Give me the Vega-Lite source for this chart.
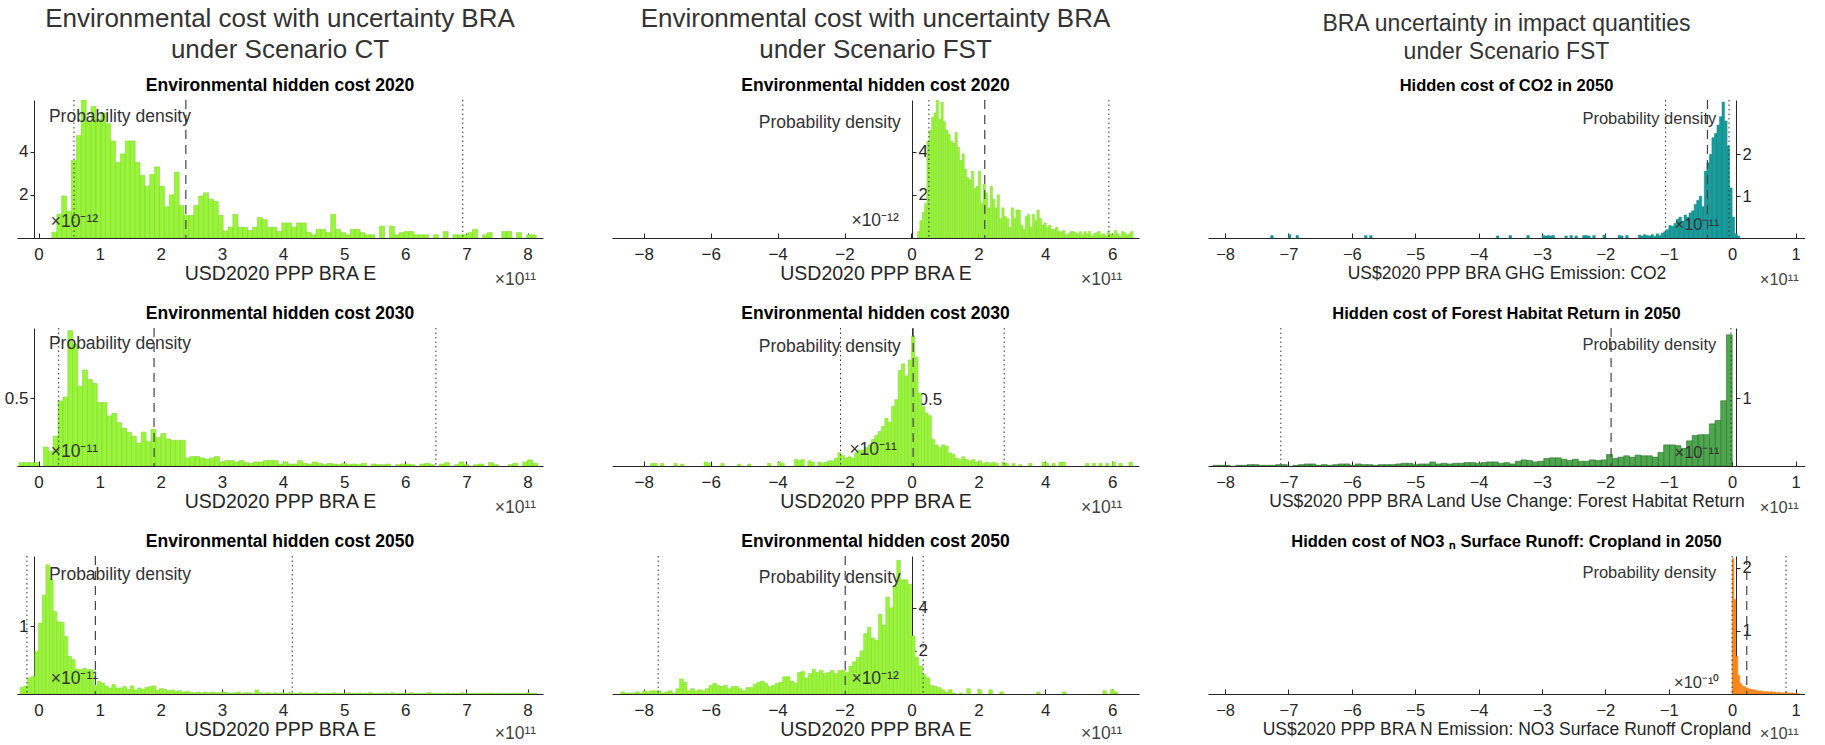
{
"$schema": "https://vega.github.io/schema/vega-lite/v6.json",
"background": "white",
"padding": {"left": 4, "top": 5, "right": 0, "bottom": 0},
"columns": 3,
"spacing": {"row": 90, "column": 69},
"bounds": "flush",
"config": {
 "view": {"stroke": null},
 "font": "Liberation Sans",
 "title": {"font": "Liberation Sans", "fontSize": 17.5, "fontWeight": "bold", "color": "#000000", "offset": 5, "anchor": "middle"},
 "axis": {"grid": false, "domainColor": "#262626", "tickColor": "#262626", "labelColor": "#262626", "titleColor": "#262626", "labelFont": "Liberation Sans", "titleFont": "Liberation Sans", "labelFontSize": 17, "titleFontSize": 19.5, "titleFontWeight": "normal", "labelFlush": false, "labelOverlap": false, "minExtent": 0},
 "axisX": {"tickSize": -5, "labelPadding": 13, "titlePadding": 2},
 "axisY": {"tickSize": 4, "labelPadding": 2}
},
"datasets": {
"A": [{"x":0.26,"y":0.27},{"x":0.34,"y":1.1},{"x":0.42,"y":1.95},{"x":0.5,"y":1.25},{"x":0.58,"y":3.6},{"x":0.66,"y":4.75},{"x":0.74,"y":6.4},{"x":0.82,"y":5.4},{"x":0.9,"y":6.1},{"x":0.98,"y":5.5},{"x":1.06,"y":5.8},{"x":1.14,"y":5.3},{"x":1.22,"y":4.5},{"x":1.3,"y":3.5},{"x":1.38,"y":3.9},{"x":1.46,"y":4.5},{"x":1.54,"y":4.5},{"x":1.62,"y":3.5},{"x":1.7,"y":2.9},{"x":1.78,"y":2.4},{"x":1.86,"y":2.95},{"x":1.94,"y":3.3},{"x":2.02,"y":2.4},{"x":2.1,"y":1.45},{"x":2.18,"y":2.0},{"x":2.26,"y":3.05},{"x":2.34,"y":1.5},{"x":2.42,"y":1.05},{"x":2.5,"y":1.05},{"x":2.58,"y":1.5},{"x":2.66,"y":1.95},{"x":2.74,"y":2.1},{"x":2.82,"y":1.8},{"x":2.9,"y":1.7},{"x":2.98,"y":1.05},{"x":3.06,"y":0.33},{"x":3.14,"y":0.5},{"x":3.22,"y":1.1},{"x":3.3,"y":0.5},{"x":3.38,"y":0.5},{"x":3.46,"y":0.35},{"x":3.54,"y":0.5},{"x":3.62,"y":0.95},{"x":3.7,"y":0.85},{"x":3.78,"y":0.5},{"x":3.86,"y":0.5},{"x":3.94,"y":0.3},{"x":4.02,"y":0.7},{"x":4.1,"y":0.7},{"x":4.18,"y":0.5},{"x":4.26,"y":0.7},{"x":4.34,"y":0.7},{"x":4.42,"y":0.27},{"x":4.5,"y":0.15},{"x":4.58,"y":0.4},{"x":4.66,"y":0.4},{"x":4.74,"y":0.25},{"x":4.82,"y":1.1},{"x":4.9,"y":0.4},{"x":4.98,"y":0.25},{"x":5.06,"y":0.15},{"x":5.14,"y":0.4},{"x":5.22,"y":0.4},{"x":5.3,"y":0.25},{"x":5.38,"y":0.15},{"x":5.46,"y":0.15},{"x":5.62,"y":0.55},{"x":5.78,"y":0.55},{"x":5.86,"y":0.15},{"x":5.94,"y":0.25},{"x":6.02,"y":0.3},{"x":6.1,"y":0.3},{"x":6.18,"y":0.15},{"x":6.26,"y":0.15},{"x":6.34,"y":0.15},{"x":6.5,"y":0.15},{"x":6.66,"y":0.3},{"x":6.82,"y":0.15},{"x":6.9,"y":0.15},{"x":6.98,"y":0.15},{"x":7.06,"y":0.25},{"x":7.14,"y":0.4},{"x":7.3,"y":0.15},{"x":7.38,"y":0.25},{"x":7.62,"y":0.3},{"x":7.7,"y":0.3},{"x":7.86,"y":0.25},{"x":8.02,"y":0.15},{"x":8.1,"y":0.15}],
"B": [{"x":-0.28,"y":0.025},{"x":-0.2,"y":0.025},{"x":-0.12,"y":0.025},{"x":-0.04,"y":0.025},{"x":0.12,"y":0.14},{"x":0.2,"y":0.11},{"x":0.28,"y":0.22},{"x":0.36,"y":0.48},{"x":0.44,"y":0.51},{"x":0.52,"y":1.0},{"x":0.6,"y":0.9},{"x":0.68,"y":0.59},{"x":0.76,"y":0.71},{"x":0.84,"y":0.64},{"x":0.92,"y":0.61},{"x":1.0,"y":0.47},{"x":1.08,"y":0.47},{"x":1.16,"y":0.37},{"x":1.24,"y":0.39},{"x":1.32,"y":0.32},{"x":1.4,"y":0.28},{"x":1.48,"y":0.25},{"x":1.56,"y":0.22},{"x":1.64,"y":0.17},{"x":1.72,"y":0.25},{"x":1.8,"y":0.18},{"x":1.88,"y":0.27},{"x":1.96,"y":0.21},{"x":2.04,"y":0.24},{"x":2.12,"y":0.2},{"x":2.2,"y":0.19},{"x":2.28,"y":0.19},{"x":2.36,"y":0.19},{"x":2.44,"y":0.06},{"x":2.52,"y":0.07},{"x":2.6,"y":0.07},{"x":2.68,"y":0.06},{"x":2.76,"y":0.05},{"x":2.84,"y":0.06},{"x":2.92,"y":0.07},{"x":3.0,"y":0.03},{"x":3.08,"y":0.04},{"x":3.16,"y":0.04},{"x":3.24,"y":0.03},{"x":3.32,"y":0.04},{"x":3.4,"y":0.025},{"x":3.48,"y":0.02},{"x":3.56,"y":0.03},{"x":3.64,"y":0.03},{"x":3.72,"y":0.04},{"x":3.8,"y":0.04},{"x":3.88,"y":0.04},{"x":3.96,"y":0.015},{"x":4.04,"y":0.03},{"x":4.12,"y":0.015},{"x":4.2,"y":0.015},{"x":4.28,"y":0.04},{"x":4.36,"y":0.02},{"x":4.44,"y":0.015},{"x":4.52,"y":0.03},{"x":4.6,"y":0.02},{"x":4.68,"y":0.01},{"x":4.76,"y":0.02},{"x":4.84,"y":0.015},{"x":4.92,"y":0.01},{"x":5.0,"y":0.02},{"x":5.08,"y":0.01},{"x":5.16,"y":0.015},{"x":5.24,"y":0.01},{"x":5.32,"y":0.02},{"x":5.48,"y":0.015},{"x":5.56,"y":0.01},{"x":5.64,"y":0.01},{"x":5.72,"y":0.015},{"x":5.88,"y":0.01},{"x":5.96,"y":0.015},{"x":6.04,"y":0.015},{"x":6.12,"y":0.01},{"x":6.28,"y":0.015},{"x":6.36,"y":0.02},{"x":6.44,"y":0.01},{"x":6.6,"y":0.015},{"x":6.68,"y":0.025},{"x":6.84,"y":0.01},{"x":6.92,"y":0.03},{"x":7.0,"y":0.01},{"x":7.16,"y":0.01},{"x":7.24,"y":0.015},{"x":7.4,"y":0.025},{"x":7.48,"y":0.01},{"x":7.72,"y":0.01},{"x":7.8,"y":0.02},{"x":7.96,"y":0.03},{"x":8.04,"y":0.045},{"x":8.12,"y":0.02}],
"C": [{"x":-0.27,"y":0.1},{"x":-0.21,"y":0.12},{"x":-0.15,"y":0.24},{"x":-0.09,"y":0.26},{"x":-0.03,"y":0.63},{"x":0.03,"y":1.05},{"x":0.09,"y":1.46},{"x":0.15,"y":1.91},{"x":0.21,"y":1.69},{"x":0.27,"y":1.22},{"x":0.33,"y":1.07},{"x":0.39,"y":1.06},{"x":0.45,"y":0.85},{"x":0.51,"y":0.56},{"x":0.57,"y":0.51},{"x":0.63,"y":0.37},{"x":0.69,"y":0.36},{"x":0.75,"y":0.38},{"x":0.81,"y":0.36},{"x":0.87,"y":0.36},{"x":0.93,"y":0.12},{"x":0.99,"y":0.19},{"x":1.05,"y":0.16},{"x":1.11,"y":0.12},{"x":1.17,"y":0.09},{"x":1.23,"y":0.14},{"x":1.29,"y":0.09},{"x":1.35,"y":0.09},{"x":1.41,"y":0.11},{"x":1.47,"y":0.07},{"x":1.53,"y":0.12},{"x":1.59,"y":0.06},{"x":1.65,"y":0.09},{"x":1.71,"y":0.07},{"x":1.77,"y":0.1},{"x":1.83,"y":0.11},{"x":1.89,"y":0.12},{"x":1.95,"y":0.06},{"x":2.01,"y":0.08},{"x":2.07,"y":0.07},{"x":2.13,"y":0.05},{"x":2.19,"y":0.06},{"x":2.25,"y":0.04},{"x":2.31,"y":0.05},{"x":2.37,"y":0.03},{"x":2.43,"y":0.04},{"x":2.49,"y":0.03},{"x":2.55,"y":0.02},{"x":2.61,"y":0.03},{"x":2.67,"y":0.02},{"x":2.73,"y":0.03},{"x":2.79,"y":0.02},{"x":2.85,"y":0.03},{"x":2.91,"y":0.02},{"x":2.97,"y":0.02},{"x":3.03,"y":0.03},{"x":3.09,"y":0.02},{"x":3.15,"y":0.01},{"x":3.21,"y":0.02},{"x":3.27,"y":0.03},{"x":3.33,"y":0.01},{"x":3.39,"y":0.02},{"x":3.45,"y":0.02},{"x":3.51,"y":0.01},{"x":3.57,"y":0.06},{"x":3.63,"y":0.02},{"x":3.69,"y":0.01},{"x":3.75,"y":0.02},{"x":3.81,"y":0.01},{"x":3.87,"y":0.02},{"x":3.93,"y":0.01},{"x":3.99,"y":0.02},{"x":4.05,"y":0.01},{"x":4.11,"y":0.02},{"x":4.17,"y":0.01},{"x":4.23,"y":0.01},{"x":4.29,"y":0.02},{"x":4.35,"y":0.01},{"x":4.41,"y":0.015},{"x":4.47,"y":0.01},{"x":4.53,"y":0.02},{"x":4.59,"y":0.01},{"x":4.65,"y":0.01},{"x":4.71,"y":0.015},{"x":4.77,"y":0.01},{"x":4.83,"y":0.02},{"x":4.89,"y":0.01},{"x":4.95,"y":0.01},{"x":5.01,"y":0.01},{"x":5.07,"y":0.02},{"x":5.13,"y":0.01},{"x":5.19,"y":0.01},{"x":5.25,"y":0.015},{"x":5.31,"y":0.01},{"x":5.37,"y":0.01},{"x":5.43,"y":0.02},{"x":5.49,"y":0.01},{"x":5.55,"y":0.01},{"x":5.61,"y":0.01},{"x":5.67,"y":0.015},{"x":5.73,"y":0.01},{"x":5.79,"y":0.02},{"x":5.85,"y":0.01},{"x":5.91,"y":0.01},{"x":5.97,"y":0.01},{"x":6.03,"y":0.01},{"x":6.09,"y":0.02},{"x":6.15,"y":0.01},{"x":6.21,"y":0.01},{"x":6.27,"y":0.01},{"x":6.33,"y":0.01},{"x":6.39,"y":0.025},{"x":6.45,"y":0.01},{"x":6.51,"y":0.01},{"x":6.57,"y":0.01},{"x":6.63,"y":0.01},{"x":6.69,"y":0.015},{"x":6.75,"y":0.01},{"x":6.81,"y":0.01},{"x":6.87,"y":0.01},{"x":6.93,"y":0.02},{"x":6.99,"y":0.01},{"x":7.05,"y":0.01},{"x":7.11,"y":0.01},{"x":7.17,"y":0.01},{"x":7.23,"y":0.01},{"x":7.29,"y":0.01},{"x":7.35,"y":0.01},{"x":7.41,"y":0.015},{"x":7.47,"y":0.01},{"x":7.53,"y":0.01},{"x":7.59,"y":0.01},{"x":7.65,"y":0.01},{"x":7.71,"y":0.01},{"x":7.77,"y":0.01},{"x":7.83,"y":0.01},{"x":7.89,"y":0.01},{"x":7.95,"y":0.01},{"x":8.01,"y":0.02},{"x":8.07,"y":0.01},{"x":8.13,"y":0.01}],
"D": [{"x":0.215,"y":0.3},{"x":0.285,"y":0.8},{"x":0.355,"y":1.2},{"x":0.425,"y":1.6},{"x":0.495,"y":4.5},{"x":0.565,"y":5.0},{"x":0.635,"y":5.6},{"x":0.705,"y":5.8},{"x":0.775,"y":6.4},{"x":0.845,"y":5.5},{"x":0.915,"y":6.3},{"x":0.985,"y":5.4},{"x":1.055,"y":5.0},{"x":1.125,"y":4.8},{"x":1.195,"y":4.5},{"x":1.265,"y":4.4},{"x":1.335,"y":4.9},{"x":1.405,"y":4.2},{"x":1.475,"y":3.6},{"x":1.545,"y":3.9},{"x":1.615,"y":3.2},{"x":1.685,"y":2.8},{"x":1.755,"y":2.7},{"x":1.825,"y":3.1},{"x":1.895,"y":2.3},{"x":1.965,"y":2.4},{"x":2.035,"y":3.1},{"x":2.105,"y":1.6},{"x":2.175,"y":2.5},{"x":2.245,"y":2.1},{"x":2.315,"y":1.4},{"x":2.385,"y":2.4},{"x":2.455,"y":1.8},{"x":2.525,"y":1.4},{"x":2.595,"y":2.0},{"x":2.665,"y":0.9},{"x":2.735,"y":1.4},{"x":2.805,"y":1.0},{"x":2.875,"y":0.9},{"x":2.945,"y":0.5},{"x":3.015,"y":1.4},{"x":3.085,"y":0.9},{"x":3.155,"y":1.3},{"x":3.225,"y":1.3},{"x":3.295,"y":0.6},{"x":3.365,"y":0.4},{"x":3.435,"y":1.0},{"x":3.505,"y":1.1},{"x":3.575,"y":0.5},{"x":3.645,"y":1.1},{"x":3.715,"y":0.8},{"x":3.785,"y":1.3},{"x":3.855,"y":0.9},{"x":3.925,"y":0.6},{"x":3.995,"y":0.7},{"x":4.065,"y":0.5},{"x":4.135,"y":0.6},{"x":4.205,"y":0.4},{"x":4.275,"y":0.4},{"x":4.345,"y":0.5},{"x":4.415,"y":0.3},{"x":4.485,"y":0.3},{"x":4.555,"y":0.35},{"x":4.625,"y":0.15},{"x":4.695,"y":0.2},{"x":4.765,"y":0.3},{"x":4.835,"y":0.3},{"x":4.905,"y":0.25},{"x":4.975,"y":0.2},{"x":5.045,"y":0.3},{"x":5.115,"y":0.15},{"x":5.185,"y":0.3},{"x":5.255,"y":0.2},{"x":5.325,"y":0.3},{"x":5.395,"y":0.1},{"x":5.465,"y":0.2},{"x":5.535,"y":0.25},{"x":5.605,"y":0.3},{"x":5.675,"y":0.15},{"x":5.745,"y":0.2},{"x":5.815,"y":0.1},{"x":5.885,"y":0.3},{"x":5.955,"y":0.2},{"x":6.025,"y":0.15},{"x":6.095,"y":0.35},{"x":6.165,"y":0.2},{"x":6.235,"y":0.1},{"x":6.305,"y":0.3},{"x":6.375,"y":0.25},{"x":6.445,"y":0.15},{"x":6.515,"y":0.2},{"x":6.585,"y":0.3}],
"E": [{"x":-7.75,"y":0.02},{"x":-7.65,"y":0.02},{"x":-7.45,"y":0.02},{"x":-7.05,"y":0.02},{"x":-6.85,"y":0.015},{"x":-6.15,"y":0.03},{"x":-6.05,"y":0.02},{"x":-5.65,"y":0.02},{"x":-5.15,"y":0.015},{"x":-4.85,"y":0.015},{"x":-4.25,"y":0.02},{"x":-3.95,"y":0.03},{"x":-3.85,"y":0.02},{"x":-3.45,"y":0.05},{"x":-3.35,"y":0.04},{"x":-3.25,"y":0.05},{"x":-3.05,"y":0.04},{"x":-2.95,"y":0.03},{"x":-2.75,"y":0.03},{"x":-2.65,"y":0.02},{"x":-2.55,"y":0.03},{"x":-2.45,"y":0.04},{"x":-2.35,"y":0.04},{"x":-2.25,"y":0.06},{"x":-2.15,"y":0.1},{"x":-2.05,"y":0.08},{"x":-1.95,"y":0.06},{"x":-1.85,"y":0.07},{"x":-1.75,"y":0.06},{"x":-1.65,"y":0.1},{"x":-1.55,"y":0.12},{"x":-1.45,"y":0.12},{"x":-1.35,"y":0.14},{"x":-1.25,"y":0.16},{"x":-1.15,"y":0.2},{"x":-1.05,"y":0.23},{"x":-0.95,"y":0.26},{"x":-0.85,"y":0.3},{"x":-0.75,"y":0.36},{"x":-0.65,"y":0.33},{"x":-0.55,"y":0.45},{"x":-0.45,"y":0.5},{"x":-0.35,"y":0.72},{"x":-0.25,"y":0.77},{"x":-0.15,"y":0.68},{"x":-0.05,"y":0.8},{"x":0.05,"y":0.98},{"x":0.15,"y":0.82},{"x":0.25,"y":0.55},{"x":0.35,"y":0.45},{"x":0.45,"y":0.4},{"x":0.55,"y":0.38},{"x":0.65,"y":0.2},{"x":0.75,"y":0.16},{"x":0.85,"y":0.14},{"x":0.95,"y":0.16},{"x":1.05,"y":0.15},{"x":1.15,"y":0.1},{"x":1.25,"y":0.09},{"x":1.35,"y":0.06},{"x":1.45,"y":0.05},{"x":1.55,"y":0.07},{"x":1.65,"y":0.05},{"x":1.75,"y":0.04},{"x":1.85,"y":0.05},{"x":1.95,"y":0.03},{"x":2.05,"y":0.04},{"x":2.15,"y":0.02},{"x":2.25,"y":0.03},{"x":2.35,"y":0.02},{"x":2.45,"y":0.03},{"x":2.55,"y":0.02},{"x":2.75,"y":0.03},{"x":2.85,"y":0.02},{"x":3.05,"y":0.02},{"x":3.25,"y":0.01},{"x":3.55,"y":0.02},{"x":3.95,"y":0.03},{"x":4.05,"y":0.02},{"x":4.25,"y":0.02},{"x":4.45,"y":0.03},{"x":4.55,"y":0.03},{"x":5.25,"y":0.02},{"x":5.45,"y":0.02},{"x":5.65,"y":0.02},{"x":5.85,"y":0.02},{"x":6.05,"y":0.03},{"x":6.25,"y":0.02},{"x":6.55,"y":0.03}],
"F": [{"x":-0.055,"y":5.1},{"x":-0.165,"y":5.3},{"x":-0.275,"y":5.3},{"x":-0.385,"y":6.2},{"x":-0.495,"y":5.0},{"x":-0.605,"y":4.0},{"x":-0.715,"y":4.5},{"x":-0.825,"y":3.2},{"x":-0.935,"y":3.7},{"x":-1.045,"y":2.5},{"x":-1.155,"y":2.6},{"x":-1.265,"y":3.1},{"x":-1.375,"y":2.8},{"x":-1.485,"y":2.0},{"x":-1.595,"y":1.7},{"x":-1.705,"y":1.5},{"x":-1.815,"y":1.3},{"x":-1.925,"y":1.0},{"x":-2.035,"y":1.1},{"x":-2.145,"y":1.1},{"x":-2.255,"y":0.95},{"x":-2.365,"y":1.1},{"x":-2.475,"y":1.0},{"x":-2.585,"y":0.95},{"x":-2.695,"y":1.1},{"x":-2.805,"y":1.0},{"x":-2.915,"y":1.15},{"x":-3.025,"y":0.95},{"x":-3.135,"y":0.75},{"x":-3.245,"y":1.05},{"x":-3.355,"y":1.0},{"x":-3.465,"y":0.5},{"x":-3.575,"y":0.6},{"x":-3.685,"y":0.8},{"x":-3.795,"y":0.8},{"x":-3.905,"y":0.55},{"x":-4.015,"y":0.5},{"x":-4.125,"y":0.4},{"x":-4.235,"y":0.35},{"x":-4.345,"y":0.5},{"x":-4.455,"y":0.6},{"x":-4.565,"y":0.55},{"x":-4.675,"y":0.45},{"x":-4.785,"y":0.3},{"x":-4.895,"y":0.3},{"x":-5.005,"y":0.15},{"x":-5.115,"y":0.25},{"x":-5.225,"y":0.35},{"x":-5.335,"y":0.35},{"x":-5.445,"y":0.25},{"x":-5.555,"y":0.4},{"x":-5.665,"y":0.35},{"x":-5.775,"y":0.4},{"x":-5.885,"y":0.5},{"x":-5.995,"y":0.4},{"x":-6.105,"y":0.25},{"x":-6.215,"y":0.15},{"x":-6.325,"y":0.2},{"x":-6.435,"y":0.15},{"x":-6.545,"y":0.25},{"x":-6.655,"y":0.15},{"x":-6.765,"y":0.55},{"x":-6.875,"y":0.7},{"x":-6.985,"y":0.25},{"x":-7.095,"y":0.05},{"x":-7.205,"y":0.15},{"x":-7.315,"y":0.1},{"x":-7.425,"y":0.05},{"x":-7.535,"y":0.15},{"x":-7.645,"y":0.15},{"x":-7.755,"y":0.15},{"x":-7.865,"y":0.1},{"x":-7.975,"y":0.15},{"x":-8.085,"y":0.05},{"x":-8.195,"y":0.1},{"x":-8.305,"y":0.05},{"x":-8.415,"y":0.05},{"x":-8.525,"y":0.05},{"x":-8.635,"y":0.1},{"x":0.055,"y":2.7},{"x":0.165,"y":1.7},{"x":0.275,"y":1.3},{"x":0.385,"y":0.9},{"x":0.495,"y":0.75},{"x":0.605,"y":0.4},{"x":0.715,"y":0.35},{"x":0.825,"y":0.3},{"x":0.935,"y":0.2},{"x":1.045,"y":0.1},{"x":1.155,"y":0.2},{"x":1.265,"y":0.05},{"x":1.485,"y":0.05},{"x":1.705,"y":0.25},{"x":2.035,"y":0.2},{"x":2.365,"y":0.2},{"x":2.695,"y":0.1},{"x":3.795,"y":0.1},{"x":4.565,"y":0.1},{"x":5.775,"y":0.15},{"x":5.995,"y":0.2},{"x":6.105,"y":0.1}],
"G": [{"x":-7.26,"y":0.06},{"x":-6.98,"y":0.08},{"x":-6.86,"y":0.06},{"x":-5.78,"y":0.06},{"x":-5.7,"y":0.06},{"x":-3.7,"y":0.05},{"x":-3.5,"y":0.06},{"x":-3.22,"y":0.06},{"x":-2.98,"y":0.06},{"x":-2.94,"y":0.05},{"x":-2.9,"y":0.06},{"x":-2.86,"y":0.05},{"x":-2.82,"y":0.06},{"x":-2.62,"y":0.05},{"x":-2.54,"y":0.06},{"x":-2.46,"y":0.05},{"x":-2.34,"y":0.06},{"x":-2.3,"y":0.06},{"x":-2.26,"y":0.05},{"x":-2.18,"y":0.06},{"x":-2.02,"y":0.07},{"x":-1.78,"y":0.06},{"x":-1.74,"y":0.05},{"x":-1.66,"y":0.06},{"x":-1.46,"y":0.07},{"x":-1.42,"y":0.05},{"x":-1.38,"y":0.08},{"x":-1.34,"y":0.06},{"x":-1.3,"y":0.05},{"x":-1.26,"y":0.08},{"x":-1.22,"y":0.04},{"x":-1.18,"y":0.1},{"x":-1.14,"y":0.06},{"x":-1.1,"y":0.12},{"x":-1.06,"y":0.15},{"x":-1.02,"y":0.2},{"x":-0.98,"y":0.3},{"x":-0.94,"y":0.28},{"x":-0.9,"y":0.35},{"x":-0.86,"y":0.45},{"x":-0.82,"y":0.5},{"x":-0.78,"y":0.4},{"x":-0.74,"y":0.55},{"x":-0.7,"y":0.5},{"x":-0.66,"y":0.6},{"x":-0.62,"y":0.65},{"x":-0.58,"y":0.8},{"x":-0.54,"y":0.9},{"x":-0.5,"y":1.0},{"x":-0.46,"y":0.75},{"x":-0.42,"y":1.6},{"x":-0.38,"y":1.8},{"x":-0.34,"y":2.0},{"x":-0.3,"y":2.4},{"x":-0.26,"y":2.5},{"x":-0.22,"y":2.7},{"x":-0.18,"y":2.9},{"x":-0.14,"y":3.25},{"x":-0.1,"y":2.8},{"x":-0.06,"y":2.2},{"x":-0.02,"y":1.2},{"x":0.02,"y":0.5},{"x":0.06,"y":0.1},{"x":0.1,"y":0.05}],
"H": [{"x":-0.045,"y":1.93},{"x":-0.135,"y":0.96},{"x":-0.225,"y":0.67},{"x":-0.315,"y":0.62},{"x":-0.405,"y":0.46},{"x":-0.495,"y":0.46},{"x":-0.585,"y":0.45},{"x":-0.675,"y":0.37},{"x":-0.765,"y":0.26},{"x":-0.855,"y":0.3},{"x":-0.945,"y":0.31},{"x":-1.035,"y":0.31},{"x":-1.125,"y":0.2},{"x":-1.215,"y":0.13},{"x":-1.305,"y":0.15},{"x":-1.395,"y":0.15},{"x":-1.485,"y":0.16},{"x":-1.575,"y":0.13},{"x":-1.665,"y":0.15},{"x":-1.755,"y":0.13},{"x":-1.845,"y":0.11},{"x":-1.935,"y":0.17},{"x":-2.025,"y":0.09},{"x":-2.115,"y":0.08},{"x":-2.205,"y":0.09},{"x":-2.295,"y":0.07},{"x":-2.385,"y":0.07},{"x":-2.475,"y":0.1},{"x":-2.565,"y":0.08},{"x":-2.655,"y":0.1},{"x":-2.745,"y":0.12},{"x":-2.835,"y":0.12},{"x":-2.925,"y":0.11},{"x":-3.015,"y":0.07},{"x":-3.105,"y":0.06},{"x":-3.195,"y":0.08},{"x":-3.285,"y":0.09},{"x":-3.375,"y":0.07},{"x":-3.465,"y":0.03},{"x":-3.555,"y":0.05},{"x":-3.645,"y":0.04},{"x":-3.735,"y":0.06},{"x":-3.825,"y":0.06},{"x":-3.915,"y":0.05},{"x":-4.005,"y":0.04},{"x":-4.095,"y":0.05},{"x":-4.185,"y":0.05},{"x":-4.275,"y":0.04},{"x":-4.365,"y":0.04},{"x":-4.455,"y":0.03},{"x":-4.545,"y":0.04},{"x":-4.635,"y":0.03},{"x":-4.725,"y":0.06},{"x":-4.815,"y":0.03},{"x":-4.905,"y":0.03},{"x":-4.995,"y":0.02},{"x":-5.085,"y":0.04},{"x":-5.175,"y":0.04},{"x":-5.265,"y":0.03},{"x":-5.355,"y":0.02},{"x":-5.445,"y":0.02},{"x":-5.535,"y":0.02},{"x":-5.625,"y":0.01},{"x":-5.715,"y":0.02},{"x":-5.805,"y":0.02},{"x":-5.895,"y":0.03},{"x":-5.985,"y":0.01},{"x":-6.075,"y":0.03},{"x":-6.165,"y":0.03},{"x":-6.255,"y":0.02},{"x":-6.345,"y":0.01},{"x":-6.435,"y":0.02},{"x":-6.525,"y":0.01},{"x":-6.615,"y":0.03},{"x":-6.705,"y":0.03},{"x":-6.795,"y":0.02},{"x":-6.885,"y":0.01},{"x":-7.065,"y":0.02},{"x":-7.155,"y":0.02},{"x":-7.245,"y":0.01},{"x":-7.335,"y":0.01},{"x":-7.425,"y":0.01},{"x":-7.515,"y":0.02},{"x":-7.605,"y":0.02},{"x":-7.695,"y":0.01},{"x":-7.785,"y":0.01},{"x":-7.965,"y":0.01},{"x":-8.055,"y":0.01},{"x":-8.145,"y":0.01}],
"I": [{"x":0.015,"y":2.15},{"x":0.045,"y":1.5},{"x":0.075,"y":0.6},{"x":0.105,"y":0.3},{"x":0.135,"y":0.17},{"x":0.165,"y":0.13},{"x":0.195,"y":0.12},{"x":0.225,"y":0.1},{"x":0.255,"y":0.09},{"x":0.285,"y":0.08},{"x":0.315,"y":0.07},{"x":0.345,"y":0.07},{"x":0.375,"y":0.06},{"x":0.405,"y":0.05},{"x":0.435,"y":0.05},{"x":0.465,"y":0.05},{"x":0.495,"y":0.04},{"x":0.525,"y":0.04},{"x":0.555,"y":0.04},{"x":0.585,"y":0.03},{"x":0.615,"y":0.04},{"x":0.645,"y":0.03},{"x":0.675,"y":0.03},{"x":0.705,"y":0.02},{"x":0.735,"y":0.03},{"x":0.765,"y":0.02},{"x":0.795,"y":0.02},{"x":0.825,"y":0.02},{"x":0.855,"y":0.03},{"x":0.885,"y":0.02},{"x":0.915,"y":0.01},{"x":0.945,"y":0.02},{"x":0.975,"y":0.01},{"x":1.005,"y":0.01},{"x":1.035,"y":0.01}]
},
"concat": [
{
 "width": 526, "height": 138,
 "title": {"text": ["Environmental cost with uncertainty BRA", "under Scenario CT"], "subtitle": "Environmental hidden cost 2020", "fontSize": 26, "fontWeight": "normal", "color": "#333333", "lineHeight": 31, "subtitleFont": "Liberation Sans", "subtitleFontSize": 17.5, "subtitleFontWeight": "bold", "subtitleColor": "#000000", "subtitlePadding": 14},
 "encoding": {"x": {"field": "x", "type": "quantitative", "scale": {"domain": [-0.27, 8.17], "nice": false, "zero": false}, "axis": {"values": [0,1,2,3,4,5,6,7,8], "title": "USD2020 PPP BRA E"}}},
 "layer": [
  {"data": {"name": "A"}, "mark": {"type": "bar", "orient": "vertical", "width": 5.0, "fill": "#99f53a", "stroke": "#7fd12f", "strokeWidth": 0.5, "clip": true},
   "encoding": {"y": {"field": "y", "type": "quantitative", "scale": {"domain": [0, 6.4], "nice": false}, "axis": {"values": [2,4], "format": "~g", "title": null, "orient": "left", "offset": -17}}}},
  {"data": {"values": [{"x": 0.58}, {"x": 6.94}]}, "mark": {"type": "rule", "strokeDash": [1.5, 3], "color": "#333333", "strokeWidth": 1}},
  {"data": {"values": [{"x": 2.41}]}, "mark": {"type": "rule", "strokeDash": [9, 6], "color": "#444444", "strokeWidth": 1.2}},
  {"data": {"values": [{"x": 0.17, "y": 5.6, "t": "Probability density"}, {"x": 0.2, "y": 0.74, "t": "×10⁻¹²"}]}, "mark": {"type": "text", "align": "left", "baseline": "middle", "fontSize": 17.5, "color": "#333333"}, "encoding": {"y": {"field": "y", "type": "quantitative"}, "text": {"field": "t"}}},
  {"data": {"values": [{"x": 8.14, "y": 0, "t": "×10¹¹"}]}, "mark": {"type": "text", "align": "right", "baseline": "middle", "dy": 42, "fontSize": 17.5, "color": "#444444"}, "encoding": {"y": {"field": "y", "type": "quantitative"}, "text": {"field": "t"}}}
 ]
},
{
 "width": 527, "height": 138,
 "title": {"text": ["Environmental cost with uncertainty BRA", "under Scenario FST"], "subtitle": "Environmental hidden cost 2020", "fontSize": 26, "fontWeight": "normal", "color": "#333333", "lineHeight": 31, "subtitleFont": "Liberation Sans", "subtitleFontSize": 17.5, "subtitleFontWeight": "bold", "subtitleColor": "#000000", "subtitlePadding": 14},
 "encoding": {"x": {"field": "x", "type": "quantitative", "scale": {"domain": [-8.8, 6.65], "nice": false, "zero": false}, "axis": {"values": [-8,-6,-4,-2,0,2,4,6], "title": "USD2020 PPP BRA E"}}},
 "layer": [
  {"data": {"name": "D"}, "mark": {"type": "bar", "orient": "vertical", "width": 2.4, "fill": "#99f53a", "stroke": "#7fd12f", "strokeWidth": 0.4, "clip": true},
   "encoding": {"y": {"field": "y", "type": "quantitative", "scale": {"domain": [0, 6.4], "nice": false}, "axis": {"values": [2,4], "format": "~g", "title": null, "orient": "right", "offset": -227}}}},
  {"data": {"values": [{"x": 0.52}, {"x": 5.9}]}, "mark": {"type": "rule", "strokeDash": [1.5, 3], "color": "#333333", "strokeWidth": 1}},
  {"data": {"values": [{"x": 2.19}]}, "mark": {"type": "rule", "strokeDash": [9, 6], "color": "#444444", "strokeWidth": 1.2}},
  {"data": {"values": [{"x": -0.32, "y": 5.35, "t": "Probability density"}, {"x": -0.38, "y": 0.8, "t": "×10⁻¹²"}]}, "mark": {"type": "text", "align": "right", "baseline": "middle", "fontSize": 17.5, "color": "#333333"}, "encoding": {"y": {"field": "y", "type": "quantitative"}, "text": {"field": "t"}}},
  {"data": {"values": [{"x": 6.3, "y": 0, "t": "×10¹¹"}]}, "mark": {"type": "text", "align": "right", "baseline": "middle", "dy": 42, "fontSize": 17.5, "color": "#444444"}, "encoding": {"y": {"field": "y", "type": "quantitative"}, "text": {"field": "t"}}}
 ]
},
{
 "width": 597, "height": 138,
 "title": {"text": ["BRA uncertainty in impact quantities", "under Scenario FST"], "subtitle": "Hidden cost of CO2 in 2050", "fontSize": 23, "fontWeight": "normal", "color": "#333333", "lineHeight": 28, "subtitleFont": "Liberation Sans", "subtitleFontSize": 16.5, "subtitleFontWeight": "bold", "subtitleColor": "#000000", "subtitlePadding": 14},
 "encoding": {"x": {"field": "x", "type": "quantitative", "scale": {"domain": [-8.19, 1.07], "nice": false, "zero": false}, "axis": {"values": [-8,-7,-6,-5,-4,-3,-2,-1,0,1], "title": "US$2020 PPP BRA GHG Emission: CO2", "labelFontSize": 16.5, "titleFontSize": 17.5}}},
 "layer": [
  {"data": {"name": "G"}, "mark": {"type": "bar", "orient": "vertical", "width": 2.6, "fill": "#179c9c", "stroke": "#0f8080", "strokeWidth": 0.4, "clip": true},
   "encoding": {"y": {"field": "y", "type": "quantitative", "scale": {"domain": [0, 3.3], "nice": false}, "axis": {"values": [1,2], "format": "~g", "title": null, "orient": "right", "offset": -69, "labelFontSize": 16.5}}}},
  {"data": {"values": [{"x": -1.05}, {"x": -0.05}]}, "mark": {"type": "rule", "strokeDash": [1.5, 3], "color": "#333333", "strokeWidth": 1}},
  {"data": {"values": [{"x": -0.39}]}, "mark": {"type": "rule", "strokeDash": [9, 6], "color": "#444444", "strokeWidth": 1.2}},
  {"data": {"values": [{"x": -0.25, "y": 2.84, "t": "Probability density"}, {"x": -0.2, "y": 0.3, "t": "×10⁻¹¹"}]}, "mark": {"type": "text", "align": "right", "baseline": "middle", "fontSize": 16.5, "color": "#333333"}, "encoding": {"y": {"field": "y", "type": "quantitative"}, "text": {"field": "t"}}},
  {"data": {"values": [{"x": 1.05, "y": 0, "t": "×10¹¹"}]}, "mark": {"type": "text", "align": "right", "baseline": "middle", "dy": 42, "fontSize": 16.5, "color": "#444444"}, "encoding": {"y": {"field": "y", "type": "quantitative"}, "text": {"field": "t"}}}
 ]
},
{
 "width": 526, "height": 138,
 "title": "Environmental hidden cost 2030",
 "encoding": {"x": {"field": "x", "type": "quantitative", "scale": {"domain": [-0.27, 8.17], "nice": false, "zero": false}, "axis": {"values": [0,1,2,3,4,5,6,7,8], "title": "USD2020 PPP BRA E"}}},
 "layer": [
  {"data": {"name": "B"}, "mark": {"type": "bar", "orient": "vertical", "width": 5.0, "fill": "#99f53a", "stroke": "#7fd12f", "strokeWidth": 0.5, "clip": true},
   "encoding": {"y": {"field": "y", "type": "quantitative", "scale": {"domain": [0, 1.02], "nice": false}, "axis": {"values": [0.5], "format": "~g", "title": null, "orient": "left", "offset": -17}}}},
  {"data": {"values": [{"x": 0.33}, {"x": 6.5}]}, "mark": {"type": "rule", "strokeDash": [1.5, 3], "color": "#333333", "strokeWidth": 1}},
  {"data": {"values": [{"x": 1.89}]}, "mark": {"type": "rule", "strokeDash": [9, 6], "color": "#444444", "strokeWidth": 1.2}},
  {"data": {"values": [{"x": 0.17, "y": 0.9, "t": "Probability density"}, {"x": 0.2, "y": 0.1, "t": "×10⁻¹¹"}]}, "mark": {"type": "text", "align": "left", "baseline": "middle", "fontSize": 17.5, "color": "#333333"}, "encoding": {"y": {"field": "y", "type": "quantitative"}, "text": {"field": "t"}}},
  {"data": {"values": [{"x": 8.14, "y": 0, "t": "×10¹¹"}]}, "mark": {"type": "text", "align": "right", "baseline": "middle", "dy": 42, "fontSize": 17.5, "color": "#444444"}, "encoding": {"y": {"field": "y", "type": "quantitative"}, "text": {"field": "t"}}}
 ]
},
{
 "width": 527, "height": 138,
 "title": "Environmental hidden cost 2030",
 "encoding": {"x": {"field": "x", "type": "quantitative", "scale": {"domain": [-8.8, 6.65], "nice": false, "zero": false}, "axis": {"values": [-8,-6,-4,-2,0,2,4,6], "title": "USD2020 PPP BRA E"}}},
 "layer": [
  {"data": {"name": "E"}, "mark": {"type": "bar", "orient": "vertical", "width": 3.4, "fill": "#99f53a", "stroke": "#7fd12f", "strokeWidth": 0.4, "clip": true},
   "encoding": {"y": {"field": "y", "type": "quantitative", "scale": {"domain": [0, 1.04], "nice": false}, "axis": {"values": [0.5], "format": "~g", "title": null, "orient": "right", "offset": -227}}}},
  {"data": {"values": [{"x": -2.12}, {"x": 2.77}]}, "mark": {"type": "rule", "strokeDash": [1.5, 3], "color": "#333333", "strokeWidth": 1}},
  {"data": {"values": [{"x": 0.05}]}, "mark": {"type": "rule", "strokeDash": [9, 6], "color": "#444444", "strokeWidth": 1.2}},
  {"data": {"values": [{"x": -0.32, "y": 0.9, "t": "Probability density"}, {"x": -0.44, "y": 0.12, "t": "×10⁻¹¹"}]}, "mark": {"type": "text", "align": "right", "baseline": "middle", "fontSize": 17.5, "color": "#333333"}, "encoding": {"y": {"field": "y", "type": "quantitative"}, "text": {"field": "t"}}},
  {"data": {"values": [{"x": 6.3, "y": 0, "t": "×10¹¹"}]}, "mark": {"type": "text", "align": "right", "baseline": "middle", "dy": 42, "fontSize": 17.5, "color": "#444444"}, "encoding": {"y": {"field": "y", "type": "quantitative"}, "text": {"field": "t"}}}
 ]
},
{
 "width": 597, "height": 138,
 "title": {"text": "Hidden cost of Forest Habitat Return in 2050", "fontSize": 16.5},
 "encoding": {"x": {"field": "x", "type": "quantitative", "scale": {"domain": [-8.19, 1.07], "nice": false, "zero": false}, "axis": {"values": [-8,-7,-6,-5,-4,-3,-2,-1,0,1], "title": "US$2020 PPP BRA Land Use Change: Forest Habitat Return", "labelFontSize": 16.5, "titleFontSize": 17.5}}},
 "layer": [
  {"data": {"name": "H"}, "mark": {"type": "bar", "orient": "vertical", "width": 5.8, "fill": "#4ea64e", "stroke": "#2e6e2e", "strokeWidth": 0.6, "clip": true},
   "encoding": {"y": {"field": "y", "type": "quantitative", "scale": {"domain": [0, 2.03], "nice": false}, "axis": {"values": [1], "format": "~g", "title": null, "orient": "right", "offset": -69, "labelFontSize": 16.5}}}},
  {"data": {"values": [{"x": -7.12}, {"x": -0.02}]}, "mark": {"type": "rule", "strokeDash": [1.5, 3], "color": "#333333", "strokeWidth": 1}},
  {"data": {"values": [{"x": -1.91}]}, "mark": {"type": "rule", "strokeDash": [9, 6], "color": "#444444", "strokeWidth": 1.2}},
  {"data": {"values": [{"x": -0.25, "y": 1.78, "t": "Probability density"}, {"x": -0.2, "y": 0.19, "t": "×10⁻¹¹"}]}, "mark": {"type": "text", "align": "right", "baseline": "middle", "fontSize": 16.5, "color": "#333333"}, "encoding": {"y": {"field": "y", "type": "quantitative"}, "text": {"field": "t"}}},
  {"data": {"values": [{"x": 1.05, "y": 0, "t": "×10¹¹"}]}, "mark": {"type": "text", "align": "right", "baseline": "middle", "dy": 42, "fontSize": 16.5, "color": "#444444"}, "encoding": {"y": {"field": "y", "type": "quantitative"}, "text": {"field": "t"}}}
 ]
},
{
 "width": 526, "height": 138,
 "title": "Environmental hidden cost 2050",
 "encoding": {"x": {"field": "x", "type": "quantitative", "scale": {"domain": [-0.27, 8.17], "nice": false, "zero": false}, "axis": {"values": [0,1,2,3,4,5,6,7,8], "title": "USD2020 PPP BRA E"}}},
 "layer": [
  {"data": {"name": "C"}, "mark": {"type": "bar", "orient": "vertical", "width": 3.74, "fill": "#99f53a", "stroke": "#7fd12f", "strokeWidth": 0.4, "clip": true},
   "encoding": {"y": {"field": "y", "type": "quantitative", "scale": {"domain": [0, 2.04], "nice": false}, "axis": {"values": [1], "format": "~g", "title": null, "orient": "left", "offset": -17}}}},
  {"data": {"values": [{"x": -0.19}, {"x": 4.15}]}, "mark": {"type": "rule", "strokeDash": [1.5, 3], "color": "#333333", "strokeWidth": 1}},
  {"data": {"values": [{"x": 0.93}]}, "mark": {"type": "rule", "strokeDash": [9, 6], "color": "#444444", "strokeWidth": 1.2}},
  {"data": {"values": [{"x": 0.17, "y": 1.76, "t": "Probability density"}, {"x": 0.2, "y": 0.22, "t": "×10⁻¹¹"}]}, "mark": {"type": "text", "align": "left", "baseline": "middle", "fontSize": 17.5, "color": "#333333"}, "encoding": {"y": {"field": "y", "type": "quantitative"}, "text": {"field": "t"}}},
  {"data": {"values": [{"x": 8.14, "y": 0, "t": "×10¹¹"}]}, "mark": {"type": "text", "align": "right", "baseline": "middle", "dy": 40, "fontSize": 17.5, "color": "#444444"}, "encoding": {"y": {"field": "y", "type": "quantitative"}, "text": {"field": "t"}}}
 ]
},
{
 "width": 527, "height": 138,
 "title": "Environmental hidden cost 2050",
 "encoding": {"x": {"field": "x", "type": "quantitative", "scale": {"domain": [-8.8, 6.65], "nice": false, "zero": false}, "axis": {"values": [-8,-6,-4,-2,0,2,4,6], "title": "USD2020 PPP BRA E"}}},
 "layer": [
  {"data": {"name": "F"}, "mark": {"type": "bar", "orient": "vertical", "width": 3.75, "fill": "#99f53a", "stroke": "#7fd12f", "strokeWidth": 0.4, "clip": true},
   "encoding": {"y": {"field": "y", "type": "quantitative", "scale": {"domain": [0, 6.4], "nice": false}, "axis": {"values": [2,4], "format": "~g", "title": null, "orient": "right", "offset": -227}}}},
  {"data": {"values": [{"x": -7.57}, {"x": 0.35}]}, "mark": {"type": "rule", "strokeDash": [1.5, 3], "color": "#333333", "strokeWidth": 1}},
  {"data": {"values": [{"x": -1.98}]}, "mark": {"type": "rule", "strokeDash": [9, 6], "color": "#444444", "strokeWidth": 1.2}},
  {"data": {"values": [{"x": -0.32, "y": 5.4, "t": "Probability density"}, {"x": -0.38, "y": 0.7, "t": "×10⁻¹²"}]}, "mark": {"type": "text", "align": "right", "baseline": "middle", "fontSize": 17.5, "color": "#333333"}, "encoding": {"y": {"field": "y", "type": "quantitative"}, "text": {"field": "t"}}},
  {"data": {"values": [{"x": 6.3, "y": 0, "t": "×10¹¹"}]}, "mark": {"type": "text", "align": "right", "baseline": "middle", "dy": 40, "fontSize": 17.5, "color": "#444444"}, "encoding": {"y": {"field": "y", "type": "quantitative"}, "text": {"field": "t"}}}
 ]
},
{
 "width": 597, "height": 138,
 "title": {"text": "Hidden cost of NO3 ₙ Surface Runoff: Cropland in 2050", "fontSize": 16.5},
 "encoding": {"x": {"field": "x", "type": "quantitative", "scale": {"domain": [-8.19, 1.07], "nice": false, "zero": false}, "axis": {"values": [-8,-7,-6,-5,-4,-3,-2,-1,0,1], "title": "US$2020 PPP BRA N Emission: NO3 Surface Runoff Cropland", "labelFontSize": 16.5, "titleFontSize": 17.5}}},
 "layer": [
  {"data": {"name": "I"}, "mark": {"type": "bar", "orient": "vertical", "width": 1.95, "fill": "#ff8c1a", "stroke": "#e07010", "strokeWidth": 0.3, "clip": true},
   "encoding": {"y": {"field": "y", "type": "quantitative", "scale": {"domain": [0, 2.19], "nice": false}, "axis": {"values": [1,2], "format": "~g", "title": null, "orient": "right", "offset": -69, "labelFontSize": 16.5}}}},
  {"data": {"values": [{"x": 0.85}, {"x": 0.0}]}, "mark": {"type": "rule", "strokeDash": [1.5, 3], "color": "#333333", "strokeWidth": 1}},
  {"data": {"values": [{"x": 0.23}]}, "mark": {"type": "rule", "strokeDash": [9, 6], "color": "#444444", "strokeWidth": 1.2}},
  {"data": {"values": [{"x": -0.25, "y": 1.92, "t": "Probability density"}, {"x": -0.2, "y": 0.17, "t": "×10⁻¹⁰"}]}, "mark": {"type": "text", "align": "right", "baseline": "middle", "fontSize": 16.5, "color": "#333333"}, "encoding": {"y": {"field": "y", "type": "quantitative"}, "text": {"field": "t"}}},
  {"data": {"values": [{"x": 1.05, "y": 0, "t": "×10¹¹"}]}, "mark": {"type": "text", "align": "right", "baseline": "middle", "dy": 40, "fontSize": 16.5, "color": "#444444"}, "encoding": {"y": {"field": "y", "type": "quantitative"}, "text": {"field": "t"}}}
 ]
}
]
}
